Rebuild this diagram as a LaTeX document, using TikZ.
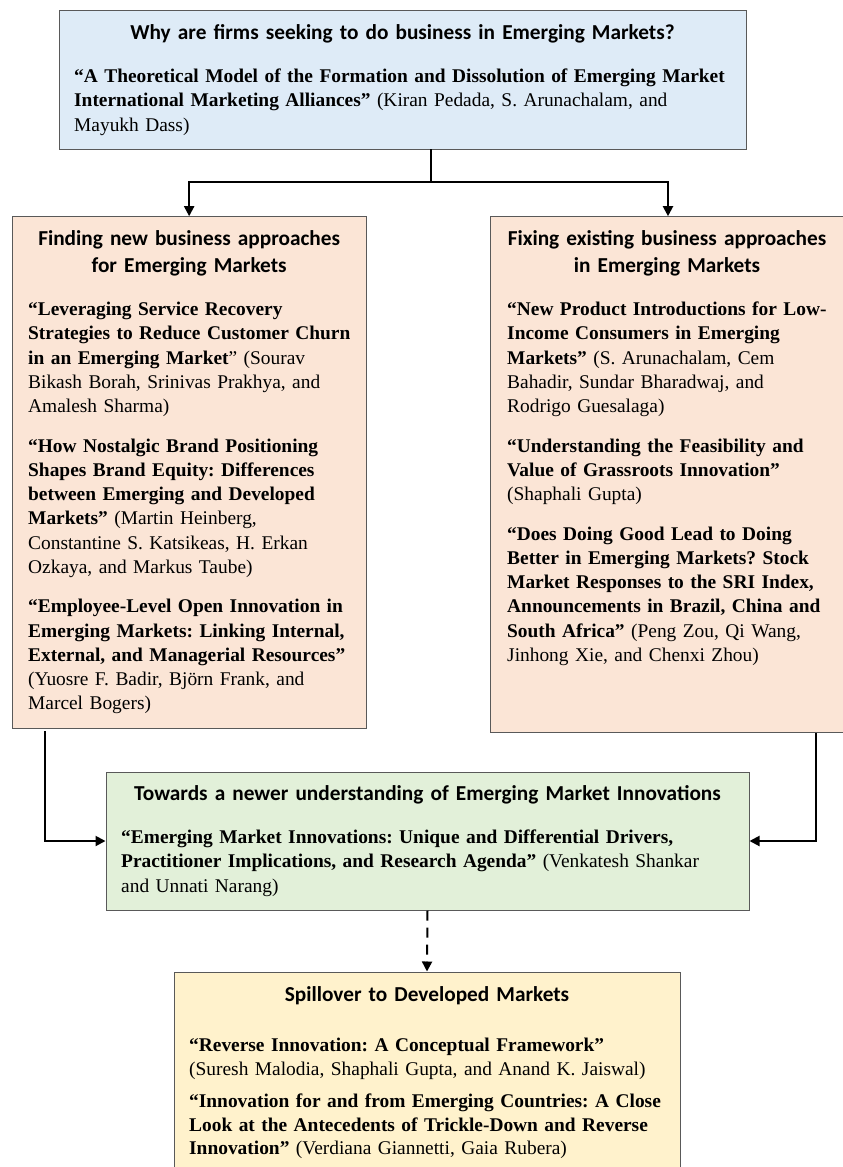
\documentclass[tikz,border=0pt]{standalone}
\usepackage{fontspec}
\setmainfont{Liberation Serif}
\newfontfamily\headfont{Carlito}
\usetikzlibrary{arrows.meta,calc}
\definecolor{cblue}{HTML}{DEEBF7}
\definecolor{cpeach}{HTML}{FBE5D6}
\definecolor{cgreen}{HTML}{E2F0D9}
\definecolor{cyellow}{HTML}{FFF2CC}
\definecolor{cborder}{HTML}{595959}
\frenchspacing
\tikzset{
  boxshape/.style={draw=cborder, line width=1pt, inner sep=0pt, rectangle},
  headtext/.style={anchor=base, inner sep=0pt, align=center,
    font=\headfont\bfseries\fontsize{21.3}{27.3}\selectfont},
  bodytext/.style={anchor=base west, inner sep=0pt, align=left, text width=720pt,
    font=\frenchspacing\fontsize{19.4}{24.2}\selectfont},
  conn/.style={line width=2pt, black},
  tip/.style={-{Triangle[length=10pt,width=10pt]}}
}
\begin{document}
\begin{tikzpicture}[x=1pt,y=-1pt]
\useasboundingbox (0,0) rectangle (843,1167);
\clip (0,0) rectangle (843,1167);
\fill[white] (0,0) rectangle (843,1167);

% boxes
\node[boxshape, fill=cblue, minimum width=687pt, minimum height=138.3pt] (topbox) at (402.5,79.85) {};
\node[boxshape, fill=cpeach, minimum width=353.7pt, minimum height=511.3pt] (leftbox) at (189.15,472.35) {};
\node[boxshape, fill=cpeach, minimum width=355pt, minimum height=515.3pt] (rightbox) at (668,474.35) {};
\node[boxshape, fill=cgreen, minimum width=643pt, minimum height=138pt] (greenbox) at (427.5,841) {};
\node[boxshape, fill=cyellow, minimum width=506pt, minimum height=208pt] (botbox) at (427,1076) {};

% top box text
\node[headtext, text width=687pt] (topH) at (402.5,39) {Why are firms seeking to do business in Emerging Markets?};
\node[bodytext] (topB) at (74,82.7) {\textbf{“A Theoretical Model of the Formation and Dissolution of Emerging Market}\\
\textbf{International Marketing Alliances”} (Kiran Pedada, S. Arunachalam, and\\
Mayukh Dass)};

% left box text
\node[headtext, text width=353pt] (leftH) at (189.15,245) {Finding new business approaches\\for Emerging Markets};
\node[bodytext] (leftB) at (28,315.7) {\textbf{“Leveraging Service Recovery}\\
\textbf{Strategies to Reduce Customer Churn}\\
\textbf{in an Emerging Market}” (Sourav\\
Bikash Borah, Srinivas Prakhya, and\\
Amalesh Sharma)\\[15.5pt]
\textbf{“How Nostalgic Brand Positioning}\\
\textbf{Shapes Brand Equity: Differences}\\
\textbf{between Emerging and Developed}\\
\textbf{Markets”} (Martin Heinberg,\\
Constantine S. Katsikeas, H. Erkan\\
Ozkaya, and Markus Taube)\\[15.5pt]
\textbf{“Employee-Level Open Innovation in}\\
\textbf{Emerging Markets: Linking Internal,}\\
\textbf{External, and Managerial Resources”}\\
(Yuosre F. Badir, Björn Frank, and\\
Marcel Bogers)};

% right box text
\node[headtext, text width=353pt] (rightH) at (667,245) {Fixing existing business approaches\\in Emerging Markets};
\node[bodytext] (rightB) at (507,315.7) {\textbf{“New Product Introductions for Low-}\\
\textbf{Income Consumers in Emerging}\\
\textbf{Markets”} (S. Arunachalam, Cem\\
Bahadir, Sundar Bharadwaj, and\\
Rodrigo Guesalaga)\\[15.5pt]
\textbf{“Understanding the Feasibility and}\\
\textbf{Value of Grassroots Innovation”}\\
(Shaphali Gupta)\\[15.5pt]
\textbf{“Does Doing Good Lead to Doing}\\
\textbf{Better in Emerging Markets? Stock}\\
\textbf{Market Responses to the SRI Index,}\\
\textbf{Announcements in Brazil, China and}\\
\textbf{South Africa”} (Peng Zou, Qi Wang,\\
Jinhong Xie, and Chenxi Zhou)};

% green box text
\node[headtext, text width=643pt] (greenH) at (427.5,800.3) {Towards a newer understanding of Emerging Market Innovations};
\node[bodytext] (greenB) at (121,843.7) {\textbf{“Emerging Market Innovations: Unique and Differential Drivers,}\\
\textbf{Practitioner Implications, and Research Agenda”} (Venkatesh Shankar\\
and Unnati Narang)};

% bottom box text
\node[headtext, text width=506pt] (botH) at (427,1001.5) {Spillover to Developed Markets};
\node[bodytext, font=\frenchspacing\fontsize{19.4}{23.5}\selectfont] (botB) at (189,1051.7) {\textbf{“Reverse Innovation: A Conceptual Framework”}\\
(Suresh Malodia, Shaphali Gupta, and Anand K. Jaiswal)\\[9pt]
\textbf{“Innovation for and from Emerging Countries: A Close}\\
\textbf{Look at the Antecedents of Trickle-Down and Reverse}\\
\textbf{Innovation”} (Verdiana Giannetti, Gaia Rubera)};

% connectors
\coordinate (tsplit) at (431,149);
\coordinate (tjoin) at (431,182);
\coordinate (lstart) at (45,731);
\coordinate (rstart) at (816,733);
\draw[conn] (tsplit) -- (tjoin);
\draw[conn, tip] (tjoin) -| (leftbox.north);
\draw[conn, tip] (tjoin) -| (rightbox.north);
\draw[conn, tip] (lstart) |- (greenbox.west);
\draw[conn, tip] (rstart) |- (greenbox.east);
\draw[conn, tip, dash pattern=on 10pt off 7pt] (greenbox.south) -- (botbox.north);
\end{tikzpicture}
\end{document}
